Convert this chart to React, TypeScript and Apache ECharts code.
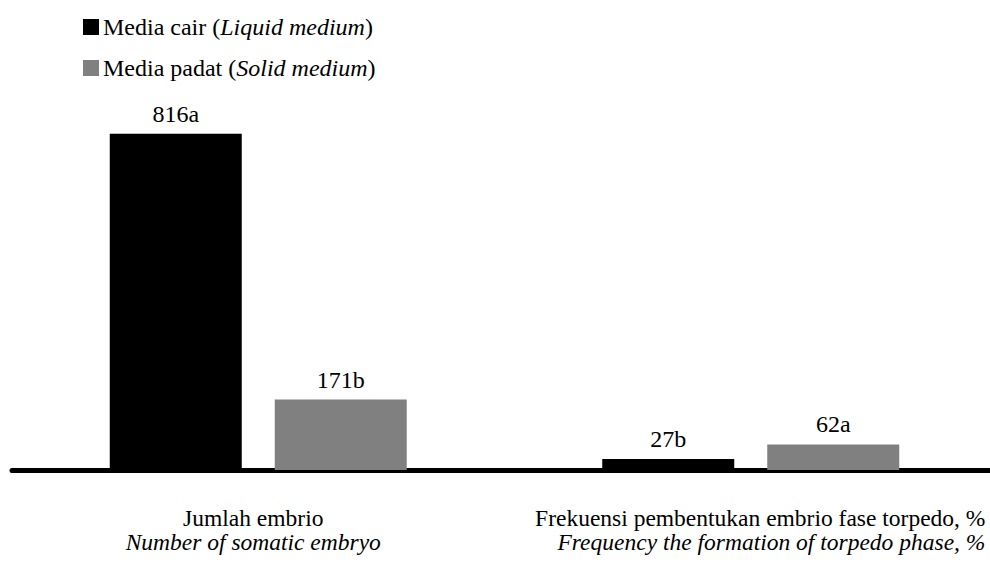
import React, { useEffect, useRef } from "react";
import * as echarts from "echarts";

const categoriesMain = ["Jumlah embrio", "Frekuensi pembentukan embrio fase torpedo, %"];
const categoriesItalic = ["Number of somatic embryo", "Frequency the formation of torpedo phase, %"];
const liquidValues = [816, 27];
const liquidLabels = ["816a", "27b"];
const solidValues = [171, 62];
const solidLabels = ["171b", "62a"];
const seriesNames = ["Media cair", "Media padat"];
const seriesItalic = ["Liquid medium", "Solid medium"];

const FONT = "serif";
const FS = 24;
const AX = 23.5;

export default function App() {
  const ref = useRef<HTMLDivElement>(null);
  useEffect(() => {
    if (!ref.current) return;
    const chart = echarts.init(ref.current, null, { renderer: "svg" });
    const catData = categoriesMain.map((c, i) =>
      i === 0 ? `{a|${c}}\n{b|${categoriesItalic[i]}}` : `{c|${c}}\n{d|${categoriesItalic[i]}}`
    );
    chart.setOption({
      animation: false,
      backgroundColor: "#ffffff",
      legend: {
        orient: "vertical",
        left: 78,
        top: 10,
        itemWidth: 16,
        itemHeight: 16,
        itemGap: 17,
        icon: "rect",
        formatter: (name: string) => {
          const i = seriesNames.indexOf(name);
          return `{n|${name} (}{i|${seriesItalic[i]}}{n|)}`;
        },
        textStyle: {
          fontFamily: FONT,
          fontSize: FS,
          color: "#000",
          padding: [0, 0, 0, -1],
          rich: {
            n: { fontFamily: FONT, fontSize: FS, color: "#000", lineHeight: 24 },
            i: { fontFamily: FONT, fontSize: FS, color: "#000", fontStyle: "italic", lineHeight: 24 },
          },
        },
      },
      grid: { left: 12, top: 58, right: -7, height: 412, outerBoundsMode: "none", containLabel: false },
      xAxis: {
        type: "category",
        data: catData,
        axisLine: { show: true, lineStyle: { color: "#000", width: 5 } },
        axisTick: { show: false },
        axisLabel: {
          margin: 36,
          interval: 0,
          color: "#000",
          fontFamily: FONT,
          fontSize: AX,
          lineHeight: 24,
          rich: {
            a: { fontFamily: FONT, fontSize: AX, color: "#000", lineHeight: 24, padding: [0, 10, 0, 0] },
            b: { fontFamily: FONT, fontSize: AX, color: "#000", fontStyle: "italic", lineHeight: 24, padding: [0, 10, 0, 0] },
            c: { fontFamily: FONT, fontSize: AX, color: "#000", lineHeight: 24, align: "right", padding: [0, 0, 0, 19] },
            d: { fontFamily: FONT, fontSize: AX, color: "#000", fontStyle: "italic", lineHeight: 24, align: "right" },
          },
        },
      },
      yAxis: {
        type: "value",
        min: 0,
        max: 1000,
        show: false,
        splitLine: { show: false },
      },
      series: [
        {
          name: seriesNames[0],
          type: "bar",
          data: liquidValues,
          barWidth: 132,
          barGap: "25%",
          itemStyle: { color: "#000000" },
          label: {
            show: true,
            position: "top",
            distance: 8,
            fontFamily: FONT,
            fontSize: FS,
            color: "#000",
            formatter: (p: any) => liquidLabels[p.dataIndex],
          },
        },
        {
          name: seriesNames[1],
          type: "bar",
          data: solidValues,
          barWidth: 132,
          barGap: "25%",
          itemStyle: { color: "#808080" },
          label: {
            show: true,
            position: "top",
            distance: 8,
            fontFamily: FONT,
            fontSize: FS,
            color: "#000",
            formatter: (p: any) => solidLabels[p.dataIndex],
          },
        },
      ],
    });
    return () => chart.dispose();
  }, []);
  return <div ref={ref} style={{ width: 990, height: 562, position: "absolute", left: 0, top: 0 }} />;
}
